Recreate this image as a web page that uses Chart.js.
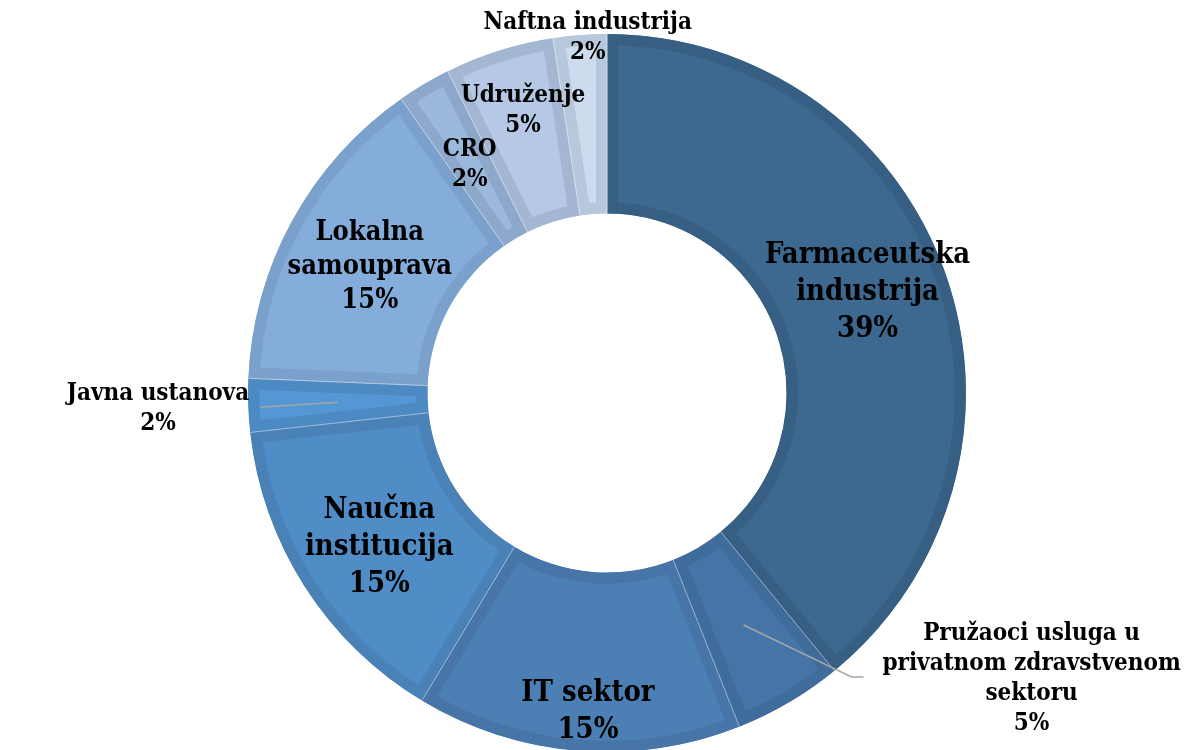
<!DOCTYPE html>
<html>
<head>
<meta charset="utf-8">
<title>Struktura</title>
<script src="https://cdn.jsdelivr.net/npm/chart.js@4/dist/chart.umd.min.js"></script>
<style>
	html, body { margin: 0; padding: 0; background: #ffffff; overflow: hidden; }
	#wrap { width: 1192px; height: 760px; }
</style>
</head>
<body>
<div id="wrap"><canvas id="sector-viz" width="1192" height="760"></canvas></div>
<script>
// Categories, clockwise from 12 o'clock (\n = line break in the label)
var categories = [
	'Farmaceutska\nindustrija',
	'Pružaoci usluga u\nprivatnom zdravstvenom\nsektoru',
	'IT sektor',
	'Naučna\ninstitucija',
	'Javna ustanova',
	'Lokalna\nsamouprava',
	'CRO',
	'Udruženje',
	'Naftna industrija'
];

// Share of each sector, percent
var shares = [ 39.0, 4.9, 14.6, 14.6, 2.4, 14.6, 2.4, 4.9, 2.4 ];

// Slice fill and (darker) inner frame colours
var fillColors   = [ '#3d6990', '#4475a6', '#4c80b5', '#508dc6', '#5597d4', '#84addb', '#9cb8dc', '#b5c9e6', '#cddbee' ];
var borderColors = [ '#375f84', '#3f6c9a', '#4775a8', '#4a82b8', '#4d89c2', '#7aa1cb', '#8da8ca', '#a3b7d2', '#b7c7dc' ];

// Label placement relative to the slice centroid, font size, optional leader line
var labelStyles = [
	{ dx:    7, dy: -10, size: 29 },
	{ dx:  288, dy:  54, size: 24, leader: [ [-180, -2], [-168, -2] ] },
	{ dx:    3, dy:  51, size: 29 },
	{ dx:   -1, dy:   9, size: 29 },
	{ dx: -180, dy:   6, size: 24, leader: [ [102, -1] ] },
	{ dx:   -1, dy:   3, size: 27 },
	{ dx:    0, dy:   3, size: 24 },
	{ dx:   -3, dy: -25, size: 24 },
	{ dx:    1, dy: -87, size: 24 }
];

var LABEL_FONT = "'DejaVu Serif Condensed', 'DejaVu Serif', serif";

// Faint white seam along the start edge of each slice
var sliceSeams = {
	id: 'sliceSeams',
	afterDatasetsDraw: function(chart) {
		var ctx = chart.ctx;
		chart.getDatasetMeta(0).data.forEach(function(arc) {
			var a = arc.startAngle;
			ctx.save();
			ctx.strokeStyle = 'rgba(255,255,255,0.45)';
			ctx.lineWidth = 1;
			ctx.beginPath();
			ctx.moveTo(arc.x + Math.cos(a) * arc.innerRadius, arc.y + Math.sin(a) * arc.innerRadius);
			ctx.lineTo(arc.x + Math.cos(a) * arc.outerRadius, arc.y + Math.sin(a) * arc.outerRadius);
			ctx.stroke();
			ctx.restore();
		});
	}
};

// Draws "name / xx%" labels and leader lines from each arc's own geometry
var sliceLabels = {
	id: 'sliceLabels',
	afterDatasetsDraw: function(chart) {
		var ctx = chart.ctx;
		var meta = chart.getDatasetMeta(0);
		var values = chart.data.datasets[0].data;

		meta.data.forEach(function(arc, i) {
			var st = labelStyles[i];
			var c = arc.tooltipPosition();
			var lx = c.x + st.dx, ly = c.y + st.dy;
			var lines = chart.data.labels[i].split('\n').concat([ Math.round(values[i]) + '%' ]);
			var lineH = Math.round(st.size * 1.27);

			ctx.save();
			if (st.leader) {
				ctx.strokeStyle = '#a6a6a6';
				ctx.lineWidth = 1.5;
				ctx.beginPath();
				ctx.moveTo(c.x, c.y);
				st.leader.forEach(function(p) { ctx.lineTo(lx + p[0], ly + p[1]); });
				ctx.stroke();
			}
			ctx.fillStyle = '#000000';
			ctx.font = 'bold ' + st.size + 'px ' + LABEL_FONT;
			ctx.textAlign = 'center';
			ctx.textBaseline = 'middle';
			lines.forEach(function(t, k) {
				ctx.fillText(t, lx, ly + (k - (lines.length - 1) / 2) * lineH);
			});
			ctx.restore();
		});
	}
};

var ctx = document.getElementById('sector-viz');
var cfg = {
	type: 'doughnut',
	data: {
		labels: categories,
		datasets: [ {
			data: shares,
			backgroundColor: fillColors,
			borderColor: borderColors,
			borderWidth: 11,
			borderAlign: 'inner',
			borderJoinStyle: 'miter',
			hoverOffset: 0,
			offset: 0
		} ]
	},
	options: {
		responsive: false,
		devicePixelRatio: 1,
		animation: false,
		cutout: '50%',
		radius: 359,
		layout: { padding: { top: 34, bottom: 8, left: 248, right: 226 } },
		plugins: {
			legend: { display: false },
			tooltip: { enabled: false }
		},
		events: []
	},
	plugins: [ sliceSeams, sliceLabels ]
};
new Chart(ctx, cfg);
</script>
</body>
</html>
